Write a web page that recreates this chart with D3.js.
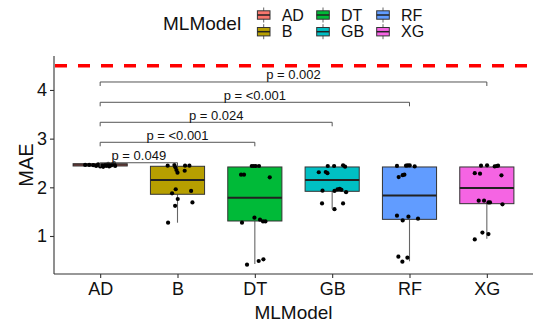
<!DOCTYPE html>
<html><head><meta charset="utf-8">
<script src="https://cdn.jsdelivr.net/npm/d3@7"></script>
<style>body{margin:0;background:#fff}svg{display:block}text{font-family:"Liberation Sans",Arial,sans-serif}</style>
</head><body><svg id="c" width="533" height="322"></svg>
<script>
const categories = ["AD","B","DT","GB","RF","XG"];
const colors = ["#F8766D","#B79F00","#00BA38","#00BFC4","#619CFF","#F564E3"];
const yTicks = [1,2,3,4];
const q1 = [2.438,1.857,1.308,1.918,1.342,1.664];
const medians = [2.46,2.15,1.787,2.15,1.83,1.986];
const q3 = [2.486,2.432,2.418,2.418,2.418,2.418];
const whiskerLow = [2.42,1.273,0.425,1.56,0.48,0.945];
const whiskerHigh = [2.49,2.432,2.418,2.418,2.418,2.418];
const refLine = 4.5;

const adValues = [2.46,2.46,2.455,2.44,2.47,2.43,2.45,2.42,2.46,2.44,2.48,2.43,2.45,2.47,2.49,2.44];
const adJitter = [-0.194,-0.142,-0.09,-0.052,-0.026,0,0.026,0.039,0.065,0.078,0.103,0.116,0.142,0.155,0.181,0.194];
const bValues = [2.444,2.459,2.41,2.356,2.30,2.34,2.444,2.444,1.96,1.877,1.925,1.76,1.62,1.69,1.273];
const bJitter = [-0.127,-0.04,-0.027,-0.014,0,0.093,0.098,0.154,-0.023,-0.07,0.176,0.003,-0.031,0.193,-0.122];
const dtValues = [2.438,2.438,2.438,2.438,2.26,2.26,2.206,1.376,1.335,1.30,1.30,1.273,0.52,0.486,0.41];
const dtJitter = [-0.04,-0.014,0.012,0.054,-0.178,-0.14,0.193,-0.005,0.067,0.106,0.137,-0.166,0.111,0.05,-0.101];
const gbValues = [2.438,2.438,2.452,2.424,2.31,2.315,2.29,1.93,1.925,1.96,1.966,1.95,1.90,1.67,1.67,1.55];
const gbJitter = [-0.057,0.025,0.141,0.167,-0.173,-0.083,-0.061,-0.125,0.03,0.069,0.098,0.12,0.18,-0.131,0.141,0.03];
const rfValues = [2.44,2.445,2.45,2.45,2.43,2.25,2.26,2.21,1.417,1.397,1.32,1.355,0.575,0.554,0.472];
const rfJitter = [-0.162,-0.045,-0.023,0.003,0.067,-0.088,-0.066,-0.14,-0.162,-0.014,-0.088,0.11,-0.144,-0.027,-0.092];
const xgValues = [2.444,2.452,2.43,2.438,2.444,2.29,2.28,2.247,1.725,1.725,1.69,1.69,1.65,1.07,1.04,0.93];
const xgJitter = [-0.075,0.003,0.102,0.128,0.145,-0.156,-0.088,0.189,-0.105,-0.036,0.021,0.041,0.202,-0.057,0.021,-0.156];
const pointValues = [adValues,bValues,dtValues,gbValues,rfValues,xgValues];
const pointJitter = [adJitter,bJitter,dtJitter,gbJitter,rfJitter,xgJitter];

const bracketFrom = "AD";
const bracketTo = ["B","DT","GB","RF","XG"];
const bracketLabels = ["p = 0.049","p = <0.001","p = 0.024","p = <0.001","p = 0.002"];
const bracketY = [2.505,2.925,3.336,3.747,4.164];

const svg = d3.select("#c");
const L = 54, R = 533, T = 56, B = 274;
const x = d3.scalePoint().domain(categories).range([L, R]).padding(0.597);
const step = x.step();
const y = d3.scaleLinear().domain([0.219, 4.698]).range([B, T]);
const boxW = step * 0.7;

// boxes
const g = svg.append("g");
categories.forEach((c, i) => {
  const cx = x(c);
  g.append("line").attr("x1", cx).attr("x2", cx).attr("y1", y(whiskerLow[i])).attr("y2", y(q1[i]))
    .attr("stroke", "#666").attr("stroke-width", 1.1);
  g.append("line").attr("x1", cx).attr("x2", cx).attr("y1", y(whiskerHigh[i])).attr("y2", y(q3[i]))
    .attr("stroke", "#666").attr("stroke-width", 1.1);
  g.append("rect").attr("x", cx - boxW/2).attr("width", boxW)
    .attr("y", y(q3[i])).attr("height", Math.max(y(q1[i]) - y(q3[i]), 0.5))
    .attr("fill", colors[i]).attr("stroke", "#333").attr("stroke-width", 1);
  g.append("line").attr("x1", cx - boxW/2).attr("x2", cx + boxW/2)
    .attr("y1", y(medians[i])).attr("y2", y(medians[i]))
    .attr("stroke", "#222").attr("stroke-width", i === 0 ? 1.2 : 2);
});
// points
categories.forEach((c, i) => {
  pointValues[i].forEach((v, j) => {
    g.append("circle").attr("cx", x(c) + pointJitter[i][j] * step).attr("cy", y(v))
      .attr("r", 2.1).attr("fill", "#000");
  });
});

// reference line
svg.append("line").attr("x1", L + 1).attr("x2", R).attr("y1", y(refLine)).attr("y2", y(refLine))
  .attr("stroke", "#FF0000").attr("stroke-width", 3.5).attr("stroke-dasharray", "12,11");

// brackets
bracketTo.forEach((c, i) => {
  const by = y(bracketY[i]);
  const x1 = x(bracketFrom), x2 = x(c);
  svg.append("path").attr("d", `M${x1},${by+4}V${by}H${x2}V${by+4}`)
    .attr("fill", "none").attr("stroke", "#555").attr("stroke-width", 1);
  svg.append("text").attr("x", (x1 + x2) / 2).attr("y", by - 2.5).attr("text-anchor", "middle")
    .attr("font-size", 13).attr("fill", "#111").text(bracketLabels[i]);
});

// axes
const ya = svg.append("g").attr("transform", `translate(${L},0)`)
  .call(d3.axisLeft(y).tickValues(yTicks).tickSize(4).tickPadding(3).tickFormat(d3.format("d")));
const xa = svg.append("g").attr("transform", `translate(0,${B})`)
  .call(d3.axisBottom(x).tickSize(4).tickPadding(4));
[ya, xa].forEach(a => {
  a.select(".domain").attr("stroke", "#333").attr("stroke-width", 1.1);
  a.selectAll(".tick line").attr("stroke", "#333").attr("stroke-width", 1.1);
  a.selectAll(".tick text").attr("fill", "#111").attr("font-size", 18)
    .style("font-family", '"Liberation Sans",Arial,sans-serif');
});
ya.select(".domain").attr("d", `M0,${T}V${B}`);
xa.select(".domain").attr("d", `M${L},0H${R}`);

svg.append("text").attr("transform", `translate(28,${(T+B)/2}) rotate(-90)`)
  .attr("text-anchor", "middle").attr("dominant-baseline", "middle").attr("font-size", 20).attr("fill", "#111").text("MAE");
svg.append("text").attr("x", (L + R) / 2).attr("y", 319).attr("text-anchor", "middle")
  .attr("font-size", 19).attr("fill", "#111").text("MLModel");

// legend
const lg = svg.append("g");
lg.append("text").attr("x", 163).attr("y", 30).attr("font-size", 19).attr("fill", "#111").text("MLModel");
const colX = [263.7, 323, 383];
const rowY = [15, 31.7];
categories.forEach((c, i) => {
  const col = Math.floor(i / 2), row = i % 2;
  const kx = colX[col], ky = rowY[row];
  lg.append("line").attr("x1", kx).attr("x2", kx).attr("y1", ky - 7.5).attr("y2", ky + 7.5).attr("stroke", "#666").attr("stroke-width", 1);
  lg.append("rect").attr("x", kx - 6.3).attr("y", ky - 4.2).attr("width", 12.6).attr("height", 8.4)
    .attr("fill", colors[i]).attr("stroke", "#333").attr("stroke-width", 1);
  lg.append("line").attr("x1", kx - 6.3).attr("x2", kx + 6.3).attr("y1", ky).attr("y2", ky).attr("stroke", "#222").attr("stroke-width", 1.5);
  lg.append("text").attr("x", kx + 18).attr("y", ky).attr("dominant-baseline", "central")
    .attr("font-size", 16).attr("fill", "#111").text(c);
});
</script></body></html>
